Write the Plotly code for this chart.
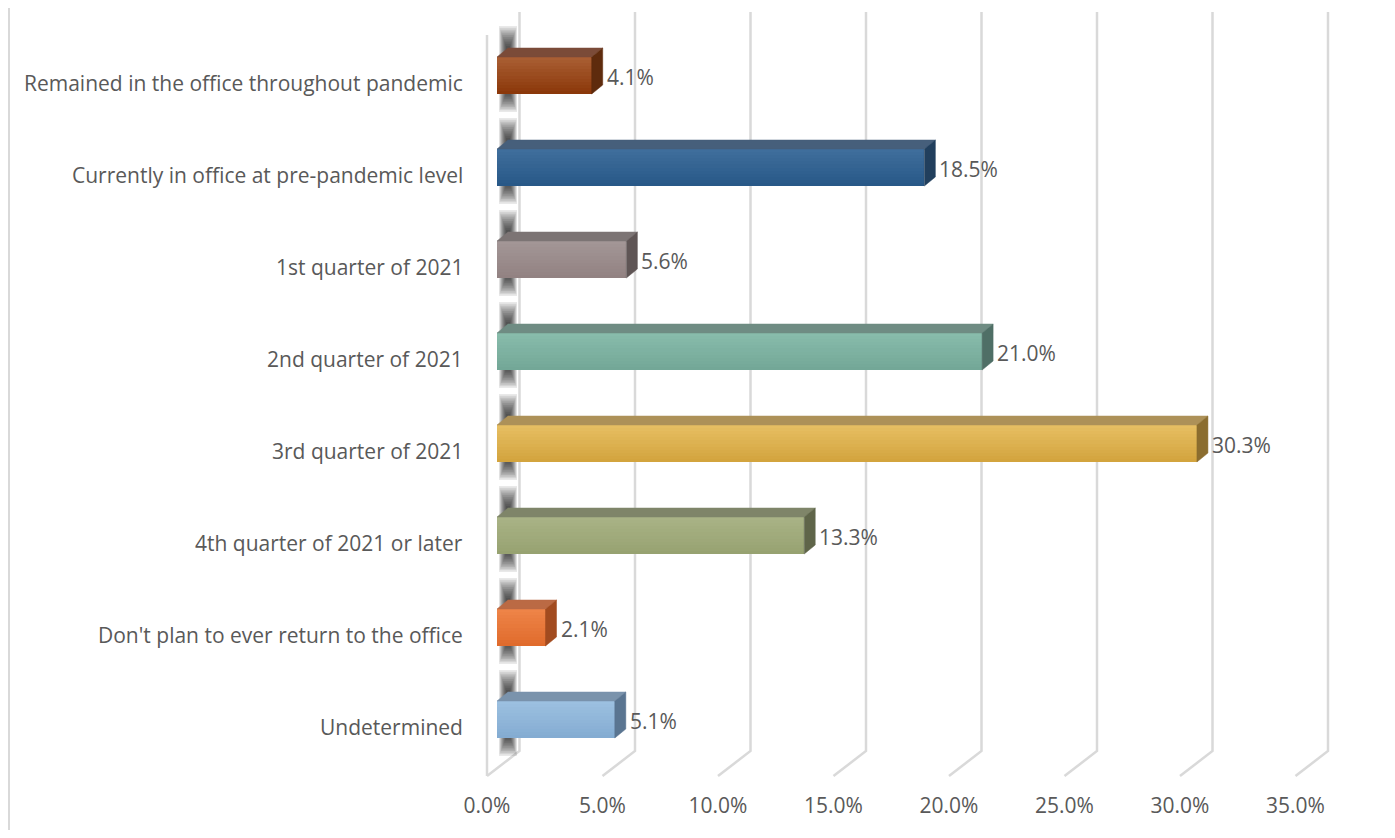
import plotly.graph_objects as go

# ---------------- data ----------------
categories = [
    "Remained in the office throughout pandemic",
    "Currently in office at pre-pandemic level",
    "1st quarter of 2021",
    "2nd quarter of 2021",
    "3rd quarter of 2021",
    "4th quarter of 2021 or later",
    "Don't plan to ever return to the office",
    "Undetermined",
]
values = [4.1, 18.5, 5.6, 21.0, 30.3, 13.3, 2.1, 5.1]
tick_values = [0, 5, 10, 15, 20, 25, 30, 35]
tick_labels = ["0.0%", "5.0%", "10.0%", "15.0%", "20.0%", "25.0%", "30.0%", "35.0%"]

# ---------------- styles ----------------
front_top = ["#A95E33", "#3F6E9C", "#A39696", "#88BCAB", "#E6BE62", "#A9B386", "#EE8448", "#9CC0E0"]
front_bot = ["#8B380A", "#285887", "#928282", "#73A797", "#D3A43E", "#97A271", "#E06B2C", "#84ACD2"]
top_col = ["#7B4B38", "#465F7B", "#7C7474", "#6F8C83", "#AD9158", "#7F8569", "#BB6A44", "#7A93AC"]
side_col = ["#5E2B0D", "#213F5D", "#5F5555", "#4F6F66", "#8B6D2F", "#5F6549", "#A24B1F", "#5A7591"]

FONT = "Open Sans"
TEXT = "#595959"
GRID = "#D9D9D9"

OFF = 8                                       # page body margin
W, H = 1395 - 2 * OFF, 838 - 2 * OFF
PL, PR, PT, PB = 470, 1360, 5, 788            # plot area (target pixels)
X0 = 497.0                                    # pixel of 0 on bar front face
PXPCT = 23.1                                  # pixels per percent
YC0, PITCH = 75.5, 92.0                       # first category centre, spacing
BAR_H_PX = 37.0
DEPTH_X, DEPTH_Y = 11.0, 9.0                  # bar depth in pixels
BACK_DX = 22.5                                # back wall offset (px)
FRONT_DX = -10.0                              # front floor offset (px)


def dx(px):
    return px / PXPCT


def ypix(py):
    return (py - YC0) / PITCH


xr = [(PL - X0) / PXPCT, (PR - X0) / PXPCT]
h = BAR_H_PX / PITCH
ddx, ddy = dx(DEPTH_X), DEPTH_Y / PITCH


def lerp_hex(a, b, t):
    a = [int(a[i:i + 2], 16) for i in (1, 3, 5)]
    b = [int(b[i:i + 2], 16) for i in (1, 3, 5)]
    return "#" + "".join(f"{round(a[k] + (b[k] - a[k]) * t):02x}" for k in range(3))


shapes = []
# gridlines (back wall vertical + floor diagonal), behind the bars
for v in tick_values:
    xb, xf = v + dx(BACK_DX), v + dx(FRONT_DX)
    shapes.append(dict(type="path", xref="x", yref="y", layer="below",
                       path=f"M {xb},{ypix(12)} L {xb},{ypix(751)} L {xf},{ypix(776)}",
                       line=dict(color=GRID, width=2.5)))
# left wall front edge
shapes.append(dict(type="line", xref="x", yref="y", layer="below",
                   x0=dx(FRONT_DX), x1=dx(FRONT_DX), y0=ypix(35), y1=ypix(776),
                   line=dict(color=GRID, width=2.5)))

# soft shadows on the back wall
ys = list(range(len(categories)))
SH_X = 508 - X0
NS = 12
for j in range(NS):
    half_w = 9.0 - 7.0 * j / (NS - 1)
    ext_top = 22 - 20 * j / (NS - 1)
    ext_bot = 18 - 18 * j / (NS - 1)
    for i in ys:
        shapes.append(dict(type="rect", xref="x", yref="y", layer="below",
                           x0=dx(SH_X - half_w), x1=dx(SH_X + half_w),
                           y0=i - h / 2 - ddy - ext_top / PITCH,
                           y1=i + h / 2 + ext_bot / PITCH,
                           fillcolor="rgba(0,0,0,0.085)", line=dict(width=0)))

# left chart border (at the left edge of the page area)
shapes.append(dict(type="line", xref="paper", yref="paper",
                   x0=(OFF + 1 - PL) / (PR - PL), x1=(OFF + 1 - PL) / (PR - PL),
                   y0=1.05, y1=-0.1, line=dict(color=GRID, width=2)))

fig = go.Figure()

# bar front faces with vertical gradient
N = 12
for k in range(N):
    t = k / (N - 1)
    fig.add_trace(go.Bar(
        x=values, y=ys, orientation="h", base=0,
        width=h / N * 1.08, offset=-h / 2 + k * h / N,
        marker=dict(color=[lerp_hex(front_top[i], front_bot[i], t) for i in ys],
                    line=dict(width=0)),
        hoverinfo="skip", showlegend=False))

# top and side faces
for i, v in enumerate(values):
    top = i - h / 2
    bot = i + h / 2
    fig.add_trace(go.Scatter(
        x=[0, ddx, v + ddx, v, 0], y=[top, top - ddy, top - ddy, top, top],
        mode="lines", fill="toself", fillcolor=top_col[i],
        line=dict(width=0.5, color=top_col[i]), hoverinfo="skip", showlegend=False))
    fig.add_trace(go.Scatter(
        x=[v, v + ddx, v + ddx, v, v], y=[top, top - ddy, bot - ddy, bot, top],
        mode="lines", fill="toself", fillcolor=side_col[i],
        line=dict(width=0.5, color=side_col[i]), hoverinfo="skip", showlegend=False))

annotations = []
for i, v in enumerate(values):
    annotations.append(dict(
        x=v + dx(DEPTH_X + 2), y=i, xref="x", yref="y", text=f"{v:.1f}%",
        showarrow=False, xanchor="left", yanchor="middle", yshift=-1.5,
        font=dict(family=FONT, size=21, color=TEXT)))
for i, c in enumerate(categories):
    annotations.append(dict(
        x=(465 - PL) / (PR - PL), y=i, xref="paper", yref="y", text=c,
        showarrow=False, xanchor="right", yanchor="middle", yshift=-7,
        font=dict(family=FONT, size=21, color=TEXT)))

fig.update_layout(
    width=W, height=H,
    margin=dict(l=PL - OFF, r=(W + OFF) - PR, t=0, b=(H + OFF) - PB),
    paper_bgcolor="white", plot_bgcolor="white",
    barmode="overlay", bargap=0,
    showlegend=False,
    annotations=annotations,
    shapes=shapes,
    xaxis=dict(range=xr, showgrid=False, zeroline=False, showline=False,
               tickmode="array", tickvals=[v + dx(FRONT_DX) for v in tick_values],
               ticktext=tick_labels, ticks="", ticklabelstandoff=3,
               tickfont=dict(family=FONT, size=21, color=TEXT), fixedrange=True),
    yaxis=dict(range=[ypix(PB), ypix(OFF)], showgrid=False, zeroline=False,
               showline=False, showticklabels=False, ticks="", fixedrange=True),
)

fig.write_html("out.html")
